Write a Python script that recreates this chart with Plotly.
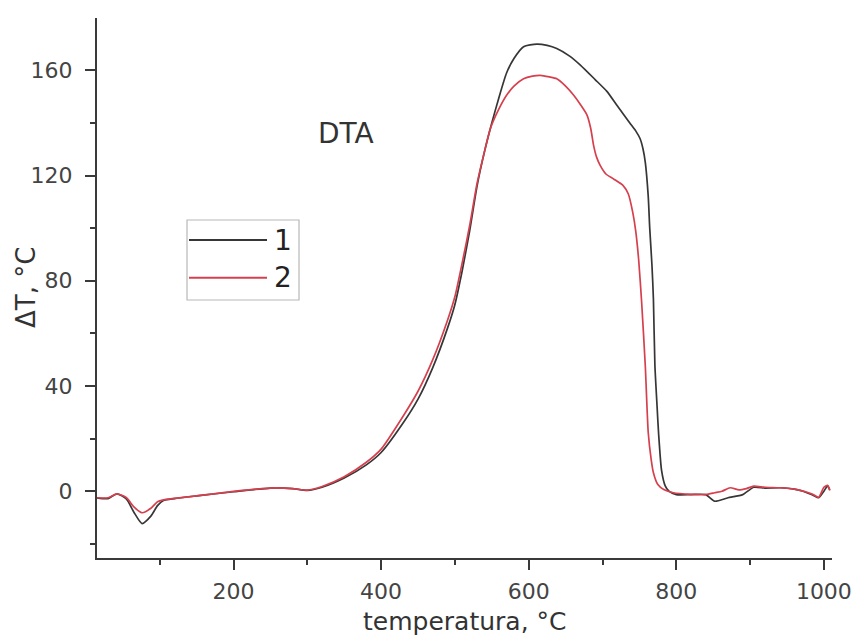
import plotly.graph_objects as go

# DTA curves: temperature (°C) vs ΔT (°C)
temp_1 = [15, 30, 42, 55, 65, 76, 88, 97, 105, 120, 150, 200, 250, 280, 300, 320,
          350, 380, 400, 430, 450, 470, 490, 500, 510, 520, 530, 540, 550, 560,
          570, 580, 593, 611, 625, 638, 655, 670, 690, 706, 720, 737, 745, 751,
          755, 758, 762, 764, 767, 769, 771, 774, 776, 780, 785, 790, 800, 820,
          840, 852, 870, 890, 905, 920, 941, 960, 972, 985, 993, 1000, 1005, 1008]
dT_1 = [-2.5, -2.8, -1.0, -3.0, -8.0, -12.3, -9.5, -5.5, -3.5, -2.8, -1.8, -0.2,
        1.2, 1.0, 0.3, 1.5, 5.0, 10.0, 14.7, 26.0, 35.0, 47.0, 62.0, 71.0, 84.0,
        99.0, 116.0, 129.0, 140.0, 150.0, 159.0, 164.5, 169.0, 170.0, 169.5,
        168.3, 165.5, 162.0, 156.5, 152.0, 146.5, 140.0, 137.0, 134.0, 130.0,
        125.0, 112.0, 100.0, 86.0, 73.0, 48.0, 32.0, 22.0, 8.0, 2.0, 0.0, -1.3,
        -1.3, -1.3, -3.8, -2.5, -1.3, 1.5, 1.2, 1.3, 0.8, 0.0, -1.5, -2.5, 0.0,
        2.0, 0.5]

temp_2 = [15, 30, 42, 55, 65, 76, 88, 97, 105, 120, 150, 200, 250, 280, 300, 320,
          350, 380, 400, 430, 450, 470, 490, 500, 510, 520, 530, 540, 548, 560,
          570, 580, 593, 605, 616, 628, 638, 650, 661, 670, 679, 684, 688, 692,
          697, 705, 715, 728, 735, 741, 745, 749, 753, 758, 762, 766, 769, 775,
          783, 796, 820, 840, 852, 862, 873, 885, 895, 905, 920, 941, 960, 972,
          985, 993, 1000, 1005, 1008]
dT_2 = [-2.5, -2.5, -1.0, -2.5, -6.0, -8.2, -6.5, -4.0, -3.3, -2.7, -1.8, -0.1,
        1.2, 1.0, 0.4, 1.8, 5.5, 11.0, 16.0, 28.6, 38.0, 50.0, 65.0, 74.0, 87.0,
        101.0, 117.0, 129.0, 137.8, 145.5, 150.5, 154.0, 156.8, 157.8, 158.1,
        157.5, 156.8, 154.0, 150.5, 147.0, 143.0, 138.0, 131.4, 127.0, 123.8,
        120.5, 118.7, 116.2, 113.0, 106.0, 99.0, 88.0, 72.0, 47.6, 22.2, 12.0,
        7.0, 2.5, 0.6, -0.6, -1.2, -1.3, -0.6, 0.0, 1.3, 0.5, 1.0, 1.9, 1.5, 1.3,
        0.8, 0.0, -1.2, -2.3, 1.5, 2.2, 0.3]

series_names = ["1", "2"]
series_colors = ["#363636", "#d6404e"]

x_ticks = [200, 400, 600, 800, 1000]
y_ticks = [0, 40, 80, 120, 160]

FONT = "DejaVu Sans"
AXIS_COLOR = "#3a3a3a"

fig = go.Figure()
for xs, ys, name, color in zip([temp_1, temp_2], [dT_1, dT_2], series_names, series_colors):
    fig.add_trace(go.Scatter(
        x=xs, y=ys, mode="lines", name=name,
        line=dict(color=color, width=1.7, shape="spline", smoothing=0.6),
        showlegend=False,
    ))

axis_common = dict(
    showline=True, linecolor=AXIS_COLOR, linewidth=2,
    showgrid=False, zeroline=False, automargin=False,
    ticks="outside", ticklen=10, tickwidth=2, tickcolor=AXIS_COLOR,
    tickfont=dict(family=FONT, size=22, color="#444444"),
    mirror=False,
)

fig.update_xaxes(
    range=[15, 1011], tickvals=x_ticks, ticktext=[str(v) for v in x_ticks],
    minor=dict(dtick=100, tick0=0, ticklen=5, tickwidth=2, tickcolor=AXIS_COLOR, ticks="outside"),
    ticklabelstandoff=3,
    **axis_common,
)
fig.update_yaxes(
    range=[-25.4, 179.9], tickvals=y_ticks, ticktext=[str(v) for v in y_ticks],
    minor=dict(dtick=20, tick0=0, ticklen=5, tickwidth=2, tickcolor=AXIS_COLOR, ticks="outside"),
    ticklabelstandoff=8,
    **axis_common,
)

# plot area geometry (px) used for the hand-drawn legend box and axis titles
L, R, T, B = 97, 832, 18, 558
W, H = 858, 637


def px_x(p):
    return (p - L) / (R - L)


def px_y(p):
    return (B - p) / (B - T)


shapes = [dict(type="rect", xref="paper", yref="paper",
               x0=px_x(187), x1=px_x(299), y0=px_y(300), y1=px_y(220),
               line=dict(color="#b8b8b8", width=1.2), fillcolor="rgba(0,0,0,0)")]
annotations = []
for i, (name, color) in enumerate(zip(series_names, series_colors)):
    yy = 240 + i * 37.7
    shapes.append(dict(type="line", xref="paper", yref="paper",
                       x0=px_x(189), x1=px_x(267), y0=px_y(yy), y1=px_y(yy),
                       line=dict(color=color, width=2)))
    annotations.append(dict(text=name, xref="paper", yref="paper",
                            x=px_x(283), y=px_y(yy), xanchor="center", yanchor="middle",
                            showarrow=False, font=dict(family=FONT, size=28, color="#222222")))

annotations.append(dict(text="DTA", xref="x", yref="y", x=352, y=136,
                        xanchor="center", yanchor="middle", showarrow=False,
                        font=dict(family=FONT, size=28, color="#333333")))

# axis titles
annotations.append(dict(text="ΔT, °C", xref="paper", yref="paper",
                        x=px_x(26), y=px_y(288), xanchor="center", yanchor="middle",
                        textangle=-90, showarrow=False,
                        font=dict(family=FONT, size=26, color="#333333")))
annotations.append(dict(text="temperatura, °C", xref="paper", yref="paper",
                        x=0.5, y=px_y(621), xanchor="center", yanchor="middle",
                        showarrow=False,
                        font=dict(family=FONT, size=25, color="#333333")))

fig.update_layout(
    width=W, height=H,
    margin=dict(l=L, r=W - R, t=T, b=H - B, autoexpand=False),
    paper_bgcolor="white", plot_bgcolor="white",
    shapes=shapes, annotations=annotations,
    showlegend=False,
)

fig.write_html("out.html")
